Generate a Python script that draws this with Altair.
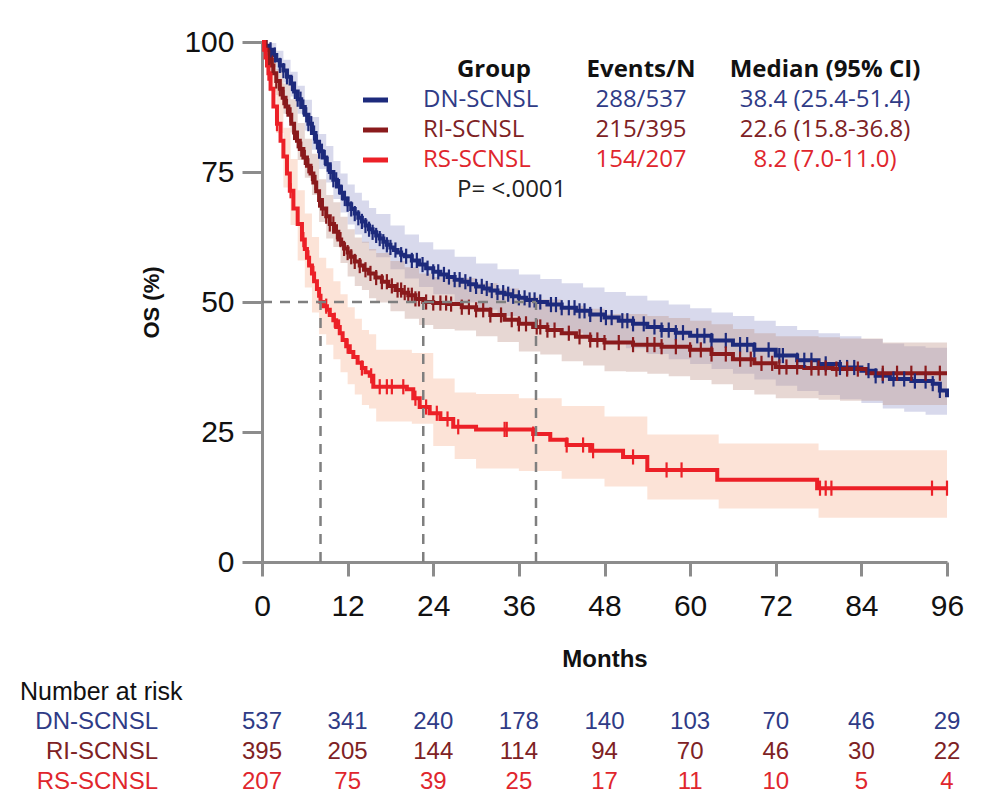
import altair as alt
import pandas as pd

GROUPS = ["DN-SCNSL", "RI-SCNSL", "RS-SCNSL"]
LINE_COLORS = ["#1d2a7c", "#8a1a1c", "#ec2027"]
TEXT_COLORS = ["#2f3b86", "#7e2224", "#e0262d"]
BAND_COLORS = ["#9da0d0", "#c49a90", "#f7b99c"]

EVENTS = ["288/537", "215/395", "154/207"]
MEDIAN_TXT = ["38.4 (25.4-51.4)", "22.6 (15.8-36.8)", "8.2 (7.0-11.0)"]
MEDIANS = [38.4, 22.6, 8.2]
P_TEXT = "P= <.0001"

X_TICKS = [0, 12, 24, 36, 48, 60, 72, 84, 96]
Y_TICKS = [0, 25, 50, 75, 100]

RISK_TIMES = [0, 12, 24, 36, 48, 60, 72, 84, 96]
DN_RISK = [537, 341, 240, 178, 140, 103, 70, 46, 29]
RI_RISK = [395, 205, 144, 114, 94, 70, 46, 30, 22]
RS_RISK = [207, 75, 39, 25, 17, 11, 10, 5, 4]

# Kaplan-Meier step points (months, OS %)
DN_T = [0, 0.5, 1, 1.5, 2, 2.5, 3, 3.5, 4, 4.5, 5, 5.5, 6, 6.5, 7, 7.5, 8, 8.5, 9, 9.5, 10, 10.5, 11,
        11.5, 12, 12.5, 13, 13.5, 14, 14.5, 15, 15.5, 16, 16.5, 17, 17.5, 18, 18.5, 19, 19.5, 20, 21,
        22, 23, 24, 25, 26, 27, 28, 29, 30, 31, 32, 33, 34, 35, 36, 37, 38.4, 40, 42, 44, 46, 48, 50,
        52, 54, 56, 58, 60, 63, 66, 69, 72, 75, 78, 81, 84, 86, 88, 91, 94, 95, 96]
DN_S = [100, 99.3, 98.5, 97.5, 96.5, 95.5, 94.5, 93.3, 92, 90.5, 89, 87.5, 86, 84.3, 82.5, 80.8, 79,
        77.8, 76.5, 75, 73.5, 72.2, 71, 69.9, 68.8, 67.9, 67, 66.2, 65.5, 64.7, 64, 63.4, 62.8, 62.2,
        61.6, 61, 60.5, 60, 59.5, 59.1, 58.8, 58, 57.2, 56.5, 55.8, 55.3, 54.8, 54.3, 53.9, 53.4, 53,
        52.6, 52.2, 51.8, 51.5, 51.1, 50.8, 50.4, 50, 49.5, 48.9, 48.3, 47.6, 47, 46.4, 45.8, 45.2,
        44.6, 44.1, 43.5, 42.6, 41.8, 40.8, 39.7, 38.8, 38.1, 37.4, 36.8, 35.8, 35.2, 34.8, 34.3, 33,
        31.7]

RI_T = [0, 0.5, 1, 1.3, 1.6, 2, 2.5, 2.9, 3.3, 3.7, 4.1, 4.5, 4.9, 5.3, 5.8, 6.3, 6.8, 7.2, 7.6, 8,
        8.4, 9, 9.5, 10.1, 10.7, 11.1, 11.5, 12, 12.4, 13, 13.7, 14.3, 15, 15.9, 16.8, 17.7, 18.7,
        19.6, 20.5, 21.5, 22.6, 24, 26, 28, 30, 32, 34, 36, 38, 40, 42, 44, 46, 48, 52, 56, 60, 63,
        66, 69, 72, 76, 80, 84.8, 96]
RI_S = [100, 98.5, 97, 95.5, 94, 92.5, 91, 89.3, 87.6, 86, 84.3, 82.6, 81, 79.4, 77.8, 76.2, 74.7,
        73, 71.3, 69.6, 68, 66.5, 65, 63.5, 62, 61.1, 60.3, 59.5, 58.7, 57.8, 57, 56.2, 55.5, 54.7,
        53.9, 53.1, 52.3, 51.8, 51.3, 50.6, 50, 49.8, 49.6, 49, 48.5, 47.5, 46.6, 45.8, 45.2, 44.6, 44,
        43.3, 42.7, 42.2, 41.8, 41.4, 40.8, 40, 39, 38.2, 37.5, 37.3, 37.1, 36.3, 36.3]

RS_T = [0, 0.3, 0.5, 0.7, 0.9, 1.2, 1.6, 2.1, 2.6, 3, 3.5, 3.9, 4.4, 5, 5.6, 6, 6.3, 6.6, 7, 7.3,
        7.7, 8, 8.2, 8.6, 9.1, 9.5, 10, 10.4, 10.9, 11.3, 11.8, 12.3, 12.8, 13.4, 14, 14.5, 15.1,
        15.6, 20.3, 21.2, 22.1, 23.5, 25, 26.8, 30, 38, 40.4, 42.7, 46, 50.6, 54, 63.8, 77.8, 96]
RS_S = [100, 98.5, 97, 95.5, 94, 91, 87.6, 84.3, 81, 78, 74.7, 71.4, 68, 65, 62, 60.2, 58.5, 57,
        55.5, 54, 52.5, 51.2, 50, 49.2, 48.5, 47.5, 46.5, 45.2, 44, 42.7, 41.5, 40.4, 39.4, 38.3,
        37.3, 36.5, 35.8, 33.7, 33.2, 31.5, 29.8, 28.6, 27.5, 26, 25.5, 24.6, 23.5, 22.5, 21.4, 20.2,
        17.7, 15.8, 14.2, 14.2]

# 95% CI bands (months, lower, upper)
DN_BT = [0, 1, 2, 3, 4, 5, 6, 7, 8, 9, 10, 11, 12, 13, 14, 15, 16, 18, 20, 22, 24, 27, 30, 33, 36, 39,
         42, 45, 48, 51, 54, 57, 60, 63, 66, 69, 72, 75, 78, 81, 84, 87, 90, 93, 96]
DN_LO = [100, 97, 94.5, 92.2, 89.5, 86.2, 83, 79.3, 75.6, 73, 69.8, 67.2, 64.9, 63, 61.4, 59.9, 58.6,
         56.3, 54.5, 52.9, 51.5, 49.9, 48.5, 47.3, 46.2, 45.1, 44.1, 43.1, 42, 41.1, 40, 39, 38.1,
         37.1, 36.2, 35.1, 33.9, 32.9, 32.1, 31.3, 30.6, 29.5, 28.9, 28.3, 26.7]
DN_HI = [100, 99.8, 98.3, 96.6, 94.3, 91.6, 88.9, 85.6, 82.3, 80, 77.1, 74.7, 72.6, 71, 69.5, 68.1,
         66.9, 64.7, 63, 61.5, 60.1, 58.7, 57.4, 56.3, 55.3, 54.4, 53.6, 52.8, 51.9, 51.2, 50.3, 49.5,
         48.8, 48, 47.3, 46.4, 45.4, 44.6, 44, 43.4, 42.9, 42, 41.5, 41.2, 40.5]

RI_BT = DN_BT
RI_LO = [100, 95.2, 89.8, 86.2, 82.6, 77.3, 73.9, 70.6, 65.4, 62.2, 60.6, 57.5, 54.9, 53.1, 52.3,
         50.7, 49.9, 48.2, 46.8, 45.6, 44.8, 44.5, 43.4, 42.3, 40.5, 39.9, 38.6, 37.8, 36.7, 36.6,
         36.2, 35.7, 35, 34.2, 33.1, 32.2, 31.5, 31.5, 31.2, 31, 31, 30.2, 30.2, 30.2, 30.2]
RI_HI = [100, 98.5, 94.8, 92, 89, 84.4, 81.4, 78.5, 73.6, 70.6, 69.2, 66.4, 64, 62.4, 61.6, 60.2,
         59.4, 57.9, 56.7, 55.5, 54.8, 54.6, 53.6, 52.6, 51, 50.5, 49.3, 48.7, 47.7, 47.7, 47.3, 46.9,
         46.4, 45.7, 44.8, 44, 43.4, 43.4, 43.2, 43, 43, 42.2, 42.2, 42.2, 42.2]

RS_BT = [0, 1, 2, 3, 4, 5, 6, 7, 8, 9, 10, 11, 12, 13, 14, 15, 16, 18, 21, 24, 27, 30, 36, 42, 48,
         54, 64, 78, 96]
RS_LO = [100, 90.5, 82.5, 72, 64.8, 58, 52.8, 48, 43.8, 41.8, 39, 36.5, 34.2, 32.2, 30.2, 29.5, 27,
         27, 26.6, 22.3, 19.8, 18, 17.5, 16, 14.5, 12, 10.3, 8.5, 8.5]
RS_HI = [100, 97, 92, 83.5, 77.5, 71.5, 67, 62.5, 58.5, 56.5, 54, 51.5, 49, 46.8, 44.6, 43.8, 40.8,
         40.8, 40.2, 35.3, 32.6, 32.3, 31.5, 30, 28, 24.5, 22.8, 21.5, 21.5]

# censoring times (months)
DN_CENS = [1.2, 1.8, 2.5, 3, 3.5, 4.2, 4.6, 5, 5.4, 5.8, 6.2, 6.5, 6.9, 7.3, 7.7, 8, 8.4, 8.8, 9.2,
           9.6, 10, 10.4, 10.8, 11.2, 11.6, 12, 12.5, 13, 13.5, 14, 14.5, 15, 15.5, 16, 16.5, 17,
           17.5, 18, 18.7, 19.5, 20.2, 21, 21.7, 22.5, 23.2, 24, 24.7, 25.5, 26.2, 27, 27.7, 28.5,
           29.2, 30, 30.8, 31.5, 32.2, 33, 33.8, 34.5, 35.2, 36, 36.8, 37.5, 38.2, 39, 40.5, 41.2, 42,
           43, 43.8, 44.5, 45.2, 46, 47.5, 48.2, 49, 50.5, 51.2, 52, 53.5, 55, 56, 57, 58, 59, 61, 62,
           63, 65, 67, 68, 69, 71, 72.5, 73, 75, 76, 77, 79, 81, 82, 83, 85, 86, 87, 88.5, 90, 91.5,
           93, 94, 95]
RI_CENS = [1, 1.5, 2, 2.5, 3, 3.5, 4, 4.5, 5, 5.5, 6, 6.5, 7, 7.5, 8, 8.5, 9, 9.5, 10, 10.5, 11, 11.5,
           12, 12.5, 13, 13.7, 14.5, 15.2, 16, 16.8, 17.5, 18.2, 19, 19.5, 20, 20.5, 21, 21.5, 22, 23,
           24, 25, 25.8, 26.5, 28, 29, 30, 31, 32, 33.5, 35, 36, 37, 38.5, 39, 40, 41, 43, 44.5, 46,
           47, 48, 50, 52, 54, 55, 56, 58, 60, 61.5, 63, 65, 67, 68.5, 70, 71.5, 72.5, 73.5, 75, 77,
           78, 79, 80.5, 82, 83.5, 87, 89, 91, 93, 95]
RS_CENS = [0.9, 2.1, 4, 5.8, 6.5, 7.2, 9, 10.2, 10.8, 12, 14, 15.3, 16.5, 17.5, 18.2, 19.8, 21.5, 23,
           24.5, 26, 27.5, 34, 34.3, 38, 42.7, 45, 46.4, 52, 56.7, 58.8, 78.2, 79, 79.8, 93.9, 96]


def step_value(ts, ss, t):
    v = ss[0]
    for ti, si in zip(ts, ss):
        if ti <= t:
            v = si
    return v


curve_rows, band_rows, cens_rows = [], [], []
for g, ts, ss, bt, lo, hi, cens in [
    (GROUPS[0], DN_T, DN_S, DN_BT, DN_LO, DN_HI, DN_CENS),
    (GROUPS[1], RI_T, RI_S, RI_BT, RI_LO, RI_HI, RI_CENS),
    (GROUPS[2], RS_T, RS_S, RS_BT, RS_LO, RS_HI, RS_CENS),
]:
    curve_rows += [{"group": g, "t": t, "s": s} for t, s in zip(ts, ss)]
    band_rows += [{"group": g, "t": t, "lo": a, "hi": b} for t, a, b in zip(bt, lo, hi)]
    cens_rows += [{"group": g, "t": t, "s": step_value(ts, ss, t)} for t in cens]

curves = pd.DataFrame(curve_rows)
bands = pd.DataFrame(band_rows)
censor = pd.DataFrame(cens_rows)

xscale = alt.Scale(domain=[0, 96], nice=False, zero=False)
yscale = alt.Scale(domain=[0, 100], nice=False)
fill_scale = alt.Scale(domain=GROUPS, range=BAND_COLORS)
stroke_scale = alt.Scale(domain=GROUPS, range=LINE_COLORS)

AX_COLOR = "#8c8c8c"
xaxis = alt.Axis(values=X_TICKS, title="Months", grid=False, labelFontSize=30, labelFont="Liberation Sans",
                 labelColor="#111", tickSize=14, tickWidth=3, tickColor=AX_COLOR, domainColor=AX_COLOR,
                 domainWidth=3, labelPadding=15, titleFont="Liberation Sans", titleFontSize=24,
                 titleFontWeight="bold", titlePadding=26, titleColor="#111", labelFlush=False)
yaxis = alt.Axis(values=Y_TICKS, title="OS (%)", grid=False, labelFontSize=30, labelFont="Liberation Sans",
                 labelColor="#111", tickSize=20, tickWidth=3, tickColor=AX_COLOR, domainColor=AX_COLOR,
                 domainWidth=3, labelPadding=8, titleFont="Liberation Sans", titleFontSize=22,
                 titleFontWeight="bold", titlePadding=20, titleColor="#111", labelFlush=False)

band_layer = alt.Chart(bands).mark_area(interpolate="step-after", opacity=0.4).encode(
    x=alt.X("t:Q", scale=xscale, axis=xaxis),
    y=alt.Y("lo:Q", scale=yscale, axis=yaxis),
    y2="hi:Q",
    fill=alt.Fill("group:N", scale=fill_scale, legend=None),
    detail="group:N",
)

line_layer = alt.Chart(curves).mark_line(interpolate="step-after", strokeWidth=4).encode(
    x="t:Q", y="s:Q",
    stroke=alt.Stroke("group:N", scale=stroke_scale, legend=None),
    detail="group:N",
)

censor_layer = alt.Chart(censor).mark_point(shape="M0,-1L0,1", size=230, filled=False, strokeWidth=2.2,
                                            opacity=1).encode(
    x="t:Q", y="s:Q",
    stroke=alt.Stroke("group:N", scale=stroke_scale, legend=None),
)

med_h = pd.DataFrame({"t0": [0], "t1": [max(MEDIANS)], "s": [50]})
med_v = pd.DataFrame({"t": MEDIANS, "s0": [0] * len(MEDIANS), "s1": [50] * len(MEDIANS)})
dash_h = alt.Chart(med_h).mark_rule(color="#7f7f7f", strokeWidth=2.5, strokeDash=[10, 8]).encode(
    x="t0:Q", x2="t1:Q", y="s:Q")
dash_v = alt.Chart(med_v).mark_rule(color="#7f7f7f", strokeWidth=2.5, strokeDash=[10, 8]).encode(
    x="t:Q", y="s0:Q", y2="s1:Q")

LEG_FONT = "Open Sans"


def txt(s, x, y, color, size, weight="normal", align="left", font=LEG_FONT):
    return alt.Chart(pd.DataFrame({"s": [s]})).mark_text(
        align=align, baseline="middle", fontSize=size, fontWeight=weight, color=color, font=font
    ).encode(text="s:N", x=alt.value(x), y=alt.value(y))


legend_layers = [
    txt("Group", 232, 28, "#111", 24, "bold", "center"),
    txt("Events/N", 379, 28, "#111", 24, "bold", "center"),
    txt("Median (95% CI)", 563, 28, "#111", 24, "bold", "center"),
]
ROW_Y = [58, 88, 118]
for i, g in enumerate(GROUPS):
    legend_layers.append(
        alt.Chart(pd.DataFrame({"a": [0]})).mark_rule(color=LINE_COLORS[i], strokeWidth=5).encode(
            x=alt.value(101), x2=alt.value(126), y=alt.value(ROW_Y[i])))
    legend_layers.append(txt(g, 161, ROW_Y[i], TEXT_COLORS[i], 24))
    legend_layers.append(txt(EVENTS[i], 379, ROW_Y[i], TEXT_COLORS[i], 24, align="center"))
    legend_layers.append(txt(MEDIAN_TXT[i], 563, ROW_Y[i], TEXT_COLORS[i], 24, align="center"))
legend_layers.append(txt(P_TEXT, 195, 148, "#222", 24))

RISK_FONT = "Liberation Sans"
risk_layers = [txt("Number at risk", -242, 650, "#111", 25, font=RISK_FONT)]
RISK_Y = [680, 710, 740]
for i, (g, counts) in enumerate(zip(GROUPS, [DN_RISK, RI_RISK, RS_RISK])):
    risk_layers.append(txt(g, -104, RISK_Y[i], TEXT_COLORS[i], 24, align="right", font=RISK_FONT))
    dfr = pd.DataFrame({"t": RISK_TIMES, "n": counts})
    risk_layers.append(
        alt.Chart(dfr).mark_text(fontSize=24, font=RISK_FONT, color=TEXT_COLORS[i], baseline="middle",
                                 align="center").encode(x="t:Q", y=alt.value(RISK_Y[i]), text="n:Q"))

chart = alt.layer(
    band_layer, line_layer, censor_layer, dash_h, dash_v, *legend_layers, *risk_layers
).properties(
    width=685, height=520,
    padding={"left": 262, "top": 42, "right": 40, "bottom": 236},
    autosize=alt.AutoSizeParams(type="none"),
).configure_view(stroke=None)

chart.save("out.html", embed_options={"renderer": "svg", "actions": False})
